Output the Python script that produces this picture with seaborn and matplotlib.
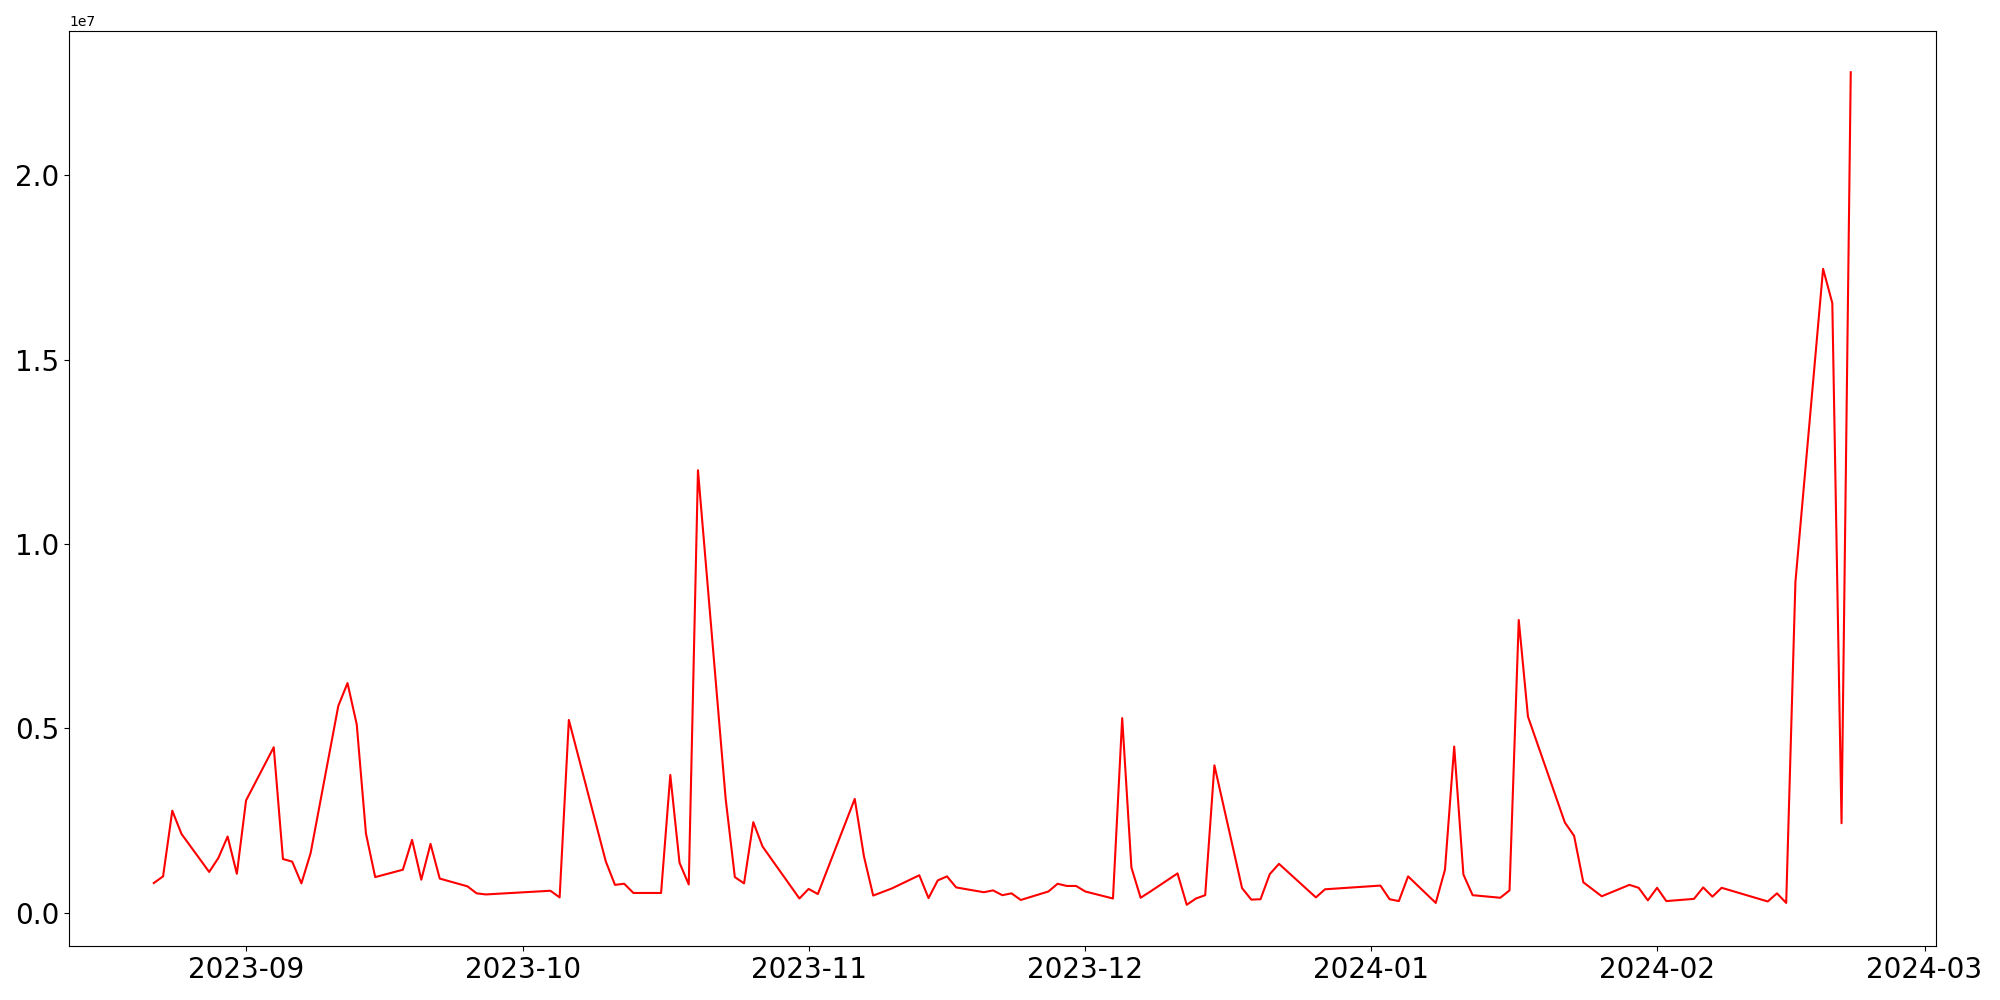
import matplotlib
matplotlib.use("Agg")
import matplotlib.pyplot as plt
import seaborn as sns
import pandas as pd

# trading dates
dates = [
    "2023-08-22", "2023-08-23", "2023-08-24", "2023-08-25", "2023-08-28", "2023-08-29",
    "2023-08-30", "2023-08-31", "2023-09-01", "2023-09-04", "2023-09-05", "2023-09-06",
    "2023-09-07", "2023-09-08", "2023-09-11", "2023-09-12", "2023-09-13", "2023-09-14",
    "2023-09-15", "2023-09-18", "2023-09-19", "2023-09-20", "2023-09-21", "2023-09-22",
    "2023-09-25", "2023-09-26", "2023-09-27", "2023-10-04", "2023-10-05", "2023-10-06",
    "2023-10-10", "2023-10-11", "2023-10-12", "2023-10-13", "2023-10-16", "2023-10-17",
    "2023-10-18", "2023-10-19", "2023-10-20", "2023-10-23", "2023-10-24", "2023-10-25",
    "2023-10-26", "2023-10-27", "2023-10-31", "2023-11-01", "2023-11-02", "2023-11-06",
    "2023-11-07", "2023-11-08", "2023-11-10", "2023-11-13", "2023-11-14", "2023-11-15",
    "2023-11-16", "2023-11-17", "2023-11-20", "2023-11-21", "2023-11-22", "2023-11-23",
    "2023-11-24", "2023-11-27", "2023-11-28", "2023-11-29", "2023-11-30", "2023-12-01",
    "2023-12-04", "2023-12-05", "2023-12-06", "2023-12-07", "2023-12-08", "2023-12-11",
    "2023-12-12", "2023-12-13", "2023-12-14", "2023-12-15", "2023-12-18", "2023-12-19",
    "2023-12-20", "2023-12-21", "2023-12-22", "2023-12-26", "2023-12-27", "2024-01-02",
    "2024-01-03", "2024-01-04", "2024-01-05", "2024-01-08", "2024-01-09", "2024-01-10",
    "2024-01-11", "2024-01-12", "2024-01-15", "2024-01-16", "2024-01-17", "2024-01-18",
    "2024-01-22", "2024-01-23", "2024-01-24", "2024-01-26", "2024-01-29", "2024-01-30",
    "2024-01-31", "2024-02-01", "2024-02-02", "2024-02-05", "2024-02-06", "2024-02-07",
    "2024-02-08", "2024-02-13", "2024-02-14", "2024-02-15", "2024-02-16", "2024-02-19",
    "2024-02-20", "2024-02-21", "2024-02-22",
]

# values in millions
values_m = [
    0.81, 0.99, 2.77, 2.14, 1.11, 1.49,
    2.07, 1.06, 3.05, 4.49, 1.46, 1.39,
    0.80, 1.62, 5.61, 6.23, 5.11, 2.15,
    0.97, 1.17, 1.98, 0.90, 1.87, 0.93,
    0.72, 0.53, 0.50, 0.60, 0.42, 5.23,
    1.40, 0.76, 0.79, 0.54, 0.54, 3.74,
    1.36, 0.77, 12.00, 3.10, 0.97, 0.80,
    2.46, 1.80, 0.39, 0.65, 0.51, 3.09,
    1.53, 0.47, 0.66, 1.02, 0.40, 0.88,
    0.99, 0.69, 0.56, 0.61, 0.48, 0.53,
    0.35, 0.58, 0.79, 0.73, 0.73, 0.58,
    0.39, 5.28, 1.23, 0.41, 0.57, 1.07,
    0.22, 0.39, 0.48, 4.00, 0.67, 0.36,
    0.37, 1.05, 1.33, 0.42, 0.64, 0.74,
    0.37, 0.32, 0.99, 0.27, 1.17, 4.51,
    1.04, 0.48, 0.41, 0.61, 7.94, 5.32,
    2.45, 2.09, 0.83, 0.45, 0.76, 0.68,
    0.34, 0.68, 0.32, 0.38, 0.69, 0.44,
    0.68, 0.31, 0.53, 0.27, 8.97, 17.46,
    16.53, 2.43, 22.79,
]

x = pd.to_datetime(dates)
y = [v * 1e6 for v in values_m]

fig, ax = plt.subplots(figsize=(20, 10), dpi=100)
sns.lineplot(x=x, y=y, color="red", linewidth=1.5, ax=ax)
ax.set_xlabel("")
ax.set_ylabel("")
plt.xticks(fontsize=20)
plt.yticks(fontsize=20)
plt.subplots_adjust(left=0.0345, right=0.9678, top=0.9694, bottom=0.0536)
plt.savefig("out.png")
